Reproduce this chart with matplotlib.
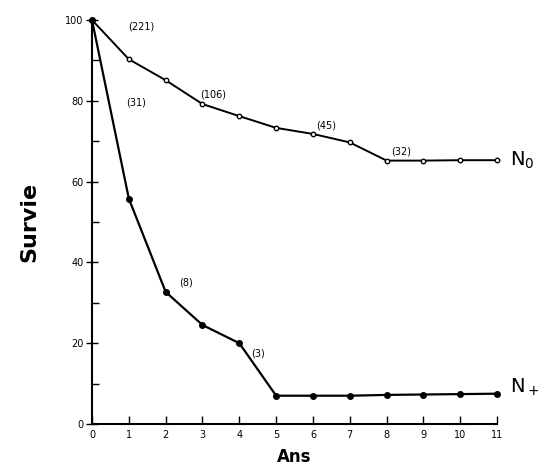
import matplotlib.pyplot as plt

# years after diagnosis
ans = [0, 1, 2, 3, 4, 5, 6, 7, 8, 9, 10, 11]
# survival (%) for the two groups
survie_n0 = [100, 90.3, 85.1, 79.2, 76.2, 73.3, 71.8, 69.7, 65.2, 65.2, 65.3, 65.3]
survie_nplus = [100, 55.8, 32.7, 24.5, 20.0, 7.0, 7.0, 7.0, 7.2, 7.3, 7.4, 7.5]

# effectifs shown along the curves
labels_n0 = ['(221)', '(106)', '(45)', '(32)']
pos_n0 = [(1.35, 98.5), (3.3, 81.5), (6.35, 74.0), (8.4, 67.5)]
labels_nplus = ['(31)', '(8)', '(3)']
pos_nplus = [(1.2, 79.5), (2.55, 35.0), (4.5, 17.5)]

fig = plt.figure(figsize=(5.38, 4.72), dpi=100)
ax = fig.add_axes([0.171, 0.1017, 0.753, 0.8559])

ax.plot(ans, survie_n0, color='black', linewidth=1.4, marker='o', markersize=3.2,
        markerfacecolor='white', markeredgecolor='black', markeredgewidth=1.0, clip_on=False)
ax.plot(ans, survie_nplus, color='black', linewidth=1.6, marker='o', markersize=4,
        markerfacecolor='black', markeredgecolor='black', clip_on=False)

for lab, (x, y) in zip(labels_n0, pos_n0):
    ax.text(x, y, lab, fontsize=7, ha='center', va='center')
for lab, (x, y) in zip(labels_nplus, pos_nplus):
    ax.text(x, y, lab, fontsize=7, ha='center', va='center')

ax.text(11.35, 65.3, 'N$_0$', fontsize=14, ha='left', va='center')
ax.text(11.35, 9.0, 'N$_+$', fontsize=14, ha='left', va='center')

ax.set_xlim(0, 11)
ax.set_ylim(0, 100)
ax.set_xticks(ans)
ax.set_yticks([0, 20, 40, 60, 80, 100])
ax.set_yticks([10, 30, 50, 70, 90], minor=True)
ax.tick_params(axis='x', direction='in', length=6, width=1, labelsize=7, pad=4)
ax.tick_params(axis='y', which='major', direction='inout', length=8, width=1, labelsize=7, pad=2)
ax.tick_params(axis='y', which='minor', direction='in', length=5, width=1)

for s in ['top', 'right']:
    ax.spines[s].set_visible(False)
for s in ['left', 'bottom']:
    ax.spines[s].set_linewidth(1.5)

ax.set_xlabel('Ans', fontsize=12, fontweight='bold', labelpad=6)
ax.set_ylabel('Survie', fontsize=16, fontweight='bold', labelpad=19)

fig.savefig('out.png', dpi=100)
